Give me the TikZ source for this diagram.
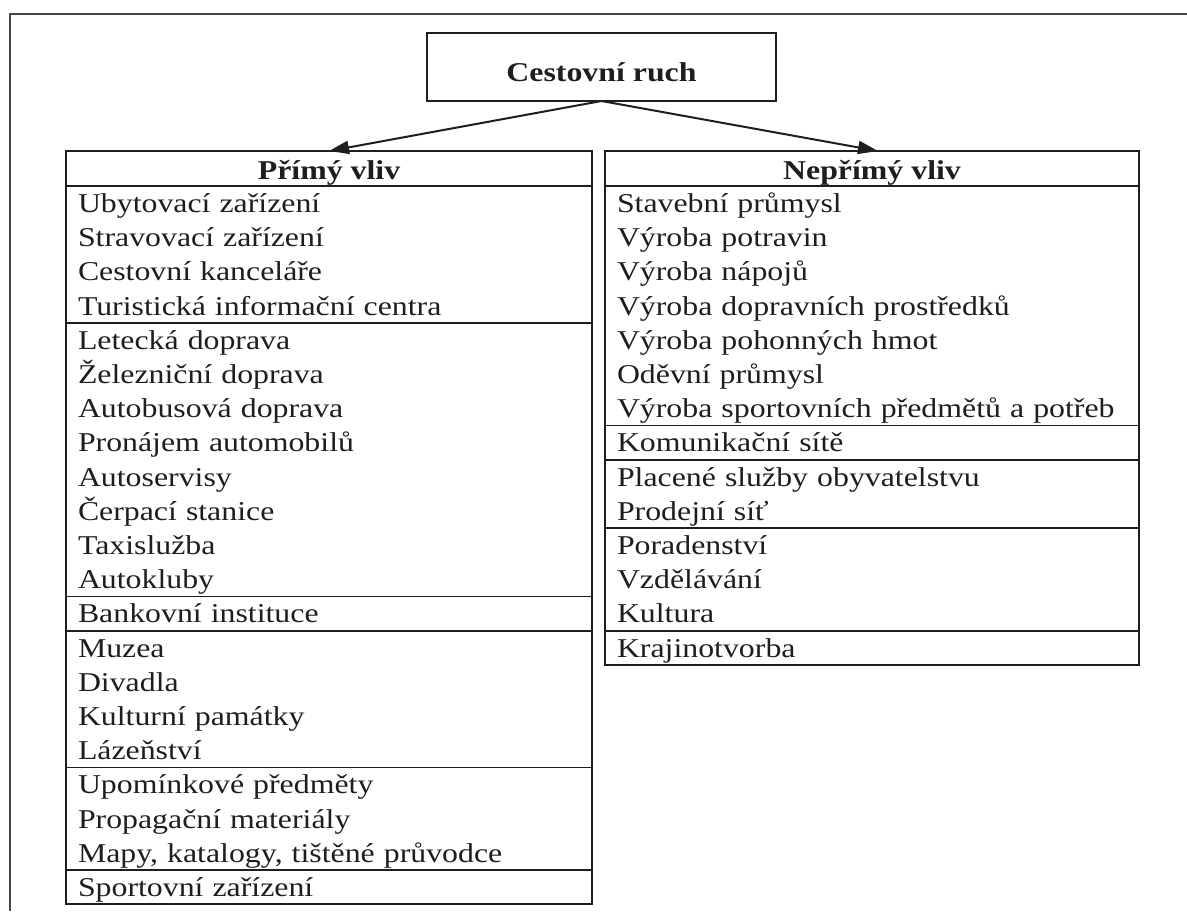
\documentclass[tikz,border=0pt]{standalone}
\usepackage{fontspec}
\setmainfont{Liberation Serif}[FakeStretch=1.17]
\usetikzlibrary{arrows.meta,positioning}
\definecolor{inkgray}{RGB}{30,30,30}
\definecolor{framegray}{RGB}{70,70,70}
\newcommand{\rowh}{17.1pt}
\tikzset{
  titlebox/.style={rectangle, draw=inkgray, line width=0.9pt, text=inkgray,
    minimum width=174.5pt, minimum height=34pt, inner ysep=0pt, outer sep=0pt,
    text height=24pt, text depth=10pt,
    font=\fontsize{13.6pt}{17.1pt}\selectfont\bfseries},
  headbox/.style={rectangle, draw=inkgray, line width=0.9pt, text=inkgray,
    minimum width=#1, minimum height=17.5pt, inner sep=0pt, outer sep=0pt,
    text height=14pt, text depth=3.5pt,
    font=\fontsize{13.6pt}{17.1pt}\selectfont\bfseries},
  listbox/.style 2 args={rectangle, draw=inkgray, line width=0.9pt, text=inkgray,
    text width=#1, align=left, inner xsep=6pt, inner ysep=0pt, outer sep=0pt,
    minimum height=#2*\rowh, text height=13.2pt, text depth=#2*\rowh-13.2pt,
    font=\fontsize{13.6pt}{17.1pt}\selectfont},
  flow/.style={-{Triangle[length=10pt,width=6.5pt]}, line width=1pt, draw=inkgray},
  pageframe/.style={line width=1pt, draw=framegray}
}
\begin{document}
\begin{tikzpicture}[x=0.5pt, y=-0.5pt]
  \useasboundingbox (0,0) rectangle (1187,911);

  % --- page frame ---
  \coordinate (framebl) at (10,911);
  \coordinate (frametl) at (10,14);
  \coordinate (frametr) at (1187,14);
  \draw[pageframe] (framebl) -- (frametl) -- (frametr);

  % --- root ---
  \node[titlebox] (tourism) at (601.5,67) {Cestovní ruch};

  % --- direct influence ---
  \node[headbox=263pt, anchor=north west] (directhead) at (66,151) {Přímý vliv};
  \node[listbox={251pt}{4}, below=0pt of directhead] (lodging)
       {Ubytovací zařízení\\ Stravovací zařízení\\ Cestovní kanceláře\\ Turistická informační centra};
  \node[listbox={251pt}{8}, below=0pt of lodging] (transport)
       {Letecká doprava\\ Železniční doprava\\ Autobusová doprava\\ Pronájem automobilů\\
        Autoservisy\\ Čerpací stanice\\ Taxislužba\\ Autokluby};
  \node[listbox={251pt}{1}, below=0pt of transport] (banks)
       {Bankovní instituce};
  \node[listbox={251pt}{4}, below=0pt of banks] (culture)
       {Muzea\\ Divadla\\ Kulturní památky\\ Lázeňství};
  \node[listbox={251pt}{3}, below=0pt of culture] (souvenirs)
       {Upomínkové předměty\\ Propagační materiály\\ Mapy, katalogy, tištěné průvodce};
  \node[listbox={251pt}{1}, below=0pt of souvenirs] (sports)
       {Sportovní zařízení};

  % --- indirect influence ---
  \node[headbox=267pt, anchor=north west] (indirecthead) at (605,151) {Nepřímý vliv};
  \node[listbox={255pt}{7}, below=0pt of indirecthead] (industry)
       {Stavební průmysl\\ Výroba potravin\\ Výroba nápojů\\ Výroba dopravních prostředků\\
        Výroba pohonných hmot\\ Oděvní průmysl\\ Výroba sportovních předmětů a potřeb};
  \node[listbox={255pt}{1}, below=0pt of industry] (networks)
       {Komunikační sítě};
  \node[listbox={255pt}{2}, below=0pt of networks] (services)
       {Placené služby obyvatelstvu\\ Prodejní síť};
  \node[listbox={255pt}{3}, below=0pt of services] (education)
       {Poradenství\\ Vzdělávání\\ Kultura};
  \node[listbox={255pt}{1}, below=0pt of education] (landscape)
       {Krajinotvorba};

  % ---------------- edges ----------------
  \coordinate (indirecttip) at ([xshift=3pt]indirecthead.north);
  \draw[flow] (tourism.south) -- (directhead.north);
  \draw[flow] (tourism.south) -- (indirecttip);

\end{tikzpicture}
\end{document}
